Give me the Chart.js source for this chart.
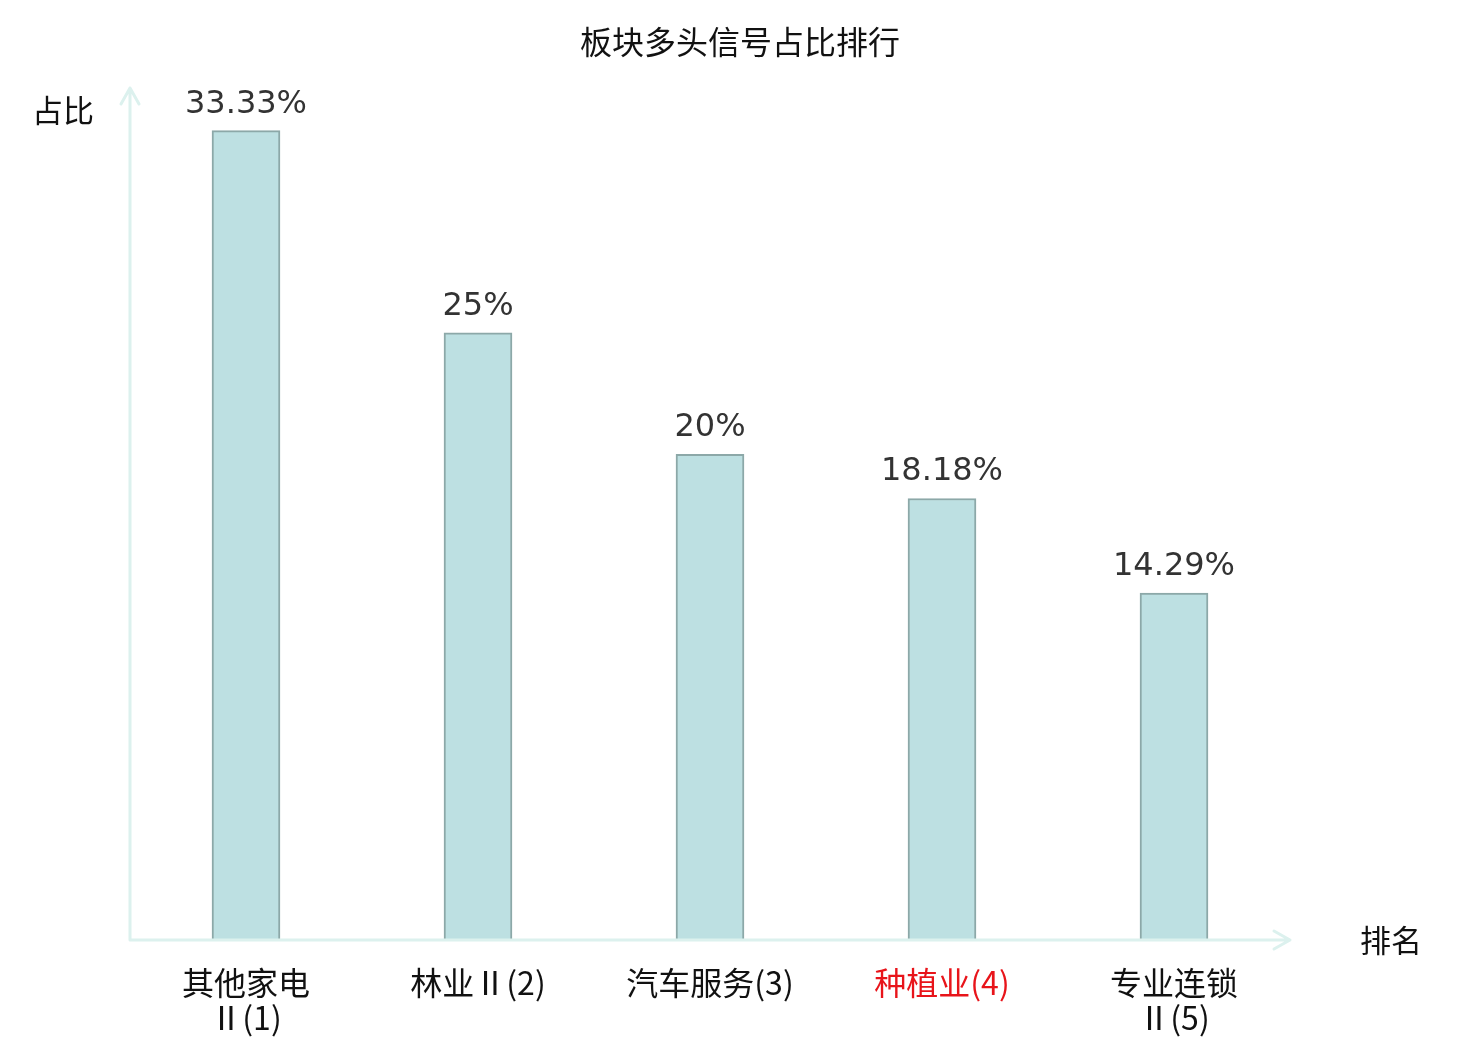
<!DOCTYPE html>
<html>
<head>
<meta charset="utf-8">
<script src="https://cdn.jsdelivr.net/npm/chart.js@4/dist/chart.umd.min.js"></script>
<style>
    html, body { margin: 0; padding: 0; background: #fff; }
    #wrap { width: 1480px; height: 1040px; position: relative; }
</style>
</head>
<body>
<div id="wrap"><canvas id="rankChart"></canvas></div>
<script>
const categories = [
    ['其他家电', 'Ⅱ(1)'],
    '林业Ⅱ(2)',
    '汽车服务(3)',
    '种植业(4)',
    ['专业连锁', 'Ⅱ(5)']
];
const shares = [33.33, 25, 20, 18.18, 14.29];
const highlightIndex = 3;

const chartTitle = '板块多头信号占比排行';
const yName = '占比';
const xName = '排名';

const axisColor = '#dcf1ee';

// axes with arrows, title, axis names and value labels
const decorPlugin = {
    id: 'decor',
    afterDraw(chart) {
        const ctx = chart.ctx;
        const area = chart.chartArea;
        const left = area.left, bottom = area.bottom;
        const top = area.top - 2, right = area.right;

        ctx.save();
        ctx.strokeStyle = axisColor;
        ctx.lineWidth = 3;
        ctx.lineCap = 'round';
        ctx.lineJoin = 'round';
        ctx.beginPath();
        ctx.moveTo(left, bottom);
        ctx.lineTo(left, top);
        ctx.moveTo(left - 9, top + 16);
        ctx.lineTo(left, top);
        ctx.lineTo(left + 9, top + 16);
        ctx.moveTo(left, bottom);
        ctx.lineTo(right, bottom);
        ctx.moveTo(right - 16, bottom - 9);
        ctx.lineTo(right, bottom);
        ctx.lineTo(right - 16, bottom + 9);
        ctx.stroke();

        ctx.fillStyle = '#111';
        ctx.font = '32px "Noto Sans CJK SC", sans-serif';
        ctx.textAlign = 'center';
        ctx.textBaseline = 'middle';
        ctx.fillText(chartTitle, chart.width / 2, 42);
        ctx.font = '31px "Noto Sans CJK SC", sans-serif';
        ctx.fillText(yName, 63, 110);
        ctx.fillText(xName, 1391, 940);

        ctx.fillStyle = '#333';
        ctx.font = '32px "DejaVu Sans", sans-serif';
        ctx.textBaseline = 'alphabetic';
        const meta = chart.getDatasetMeta(0);
        meta.data.forEach((bar, i) => {
            ctx.fillText(shares[i] + '%', bar.x, bar.y - 18);
        });
        ctx.restore();
    }
};

new Chart(document.getElementById('rankChart').getContext('2d'), {
    type: 'bar',
    data: {
        labels: categories,
        datasets: [{
            data: shares,
            backgroundColor: '#bde0e2',
            borderColor: '#8ca8a8',
            borderWidth: 2,
            barThickness: 68
        }]
    },
    options: {
        responsive: true,
        maintainAspectRatio: false,
        animation: false,
        layout: {
            padding: { left: 130, right: 190, top: 90, bottom: 0 }
        },
        plugins: {
            legend: { display: false },
            tooltip: { enabled: false }
        },
        scales: {
            x: {
                grid: { display: false, drawTicks: false },
                border: { display: false },
                afterFit: (scale) => { scale.height = 100; },
                ticks: {
                    padding: 25,
                    autoSkip: false,
                    maxRotation: 0,
                    color: (c) => c.index === highlightIndex ? '#e8141a' : '#111',
                    font: { family: '"Noto Sans CJK SC", sans-serif', size: 32, lineHeight: 1.1 }
                }
            },
            y: {
                display: false,
                min: 0,
                max: 35
            }
        }
    },
    plugins: [decorPlugin]
});
</script>
</body>
</html>
